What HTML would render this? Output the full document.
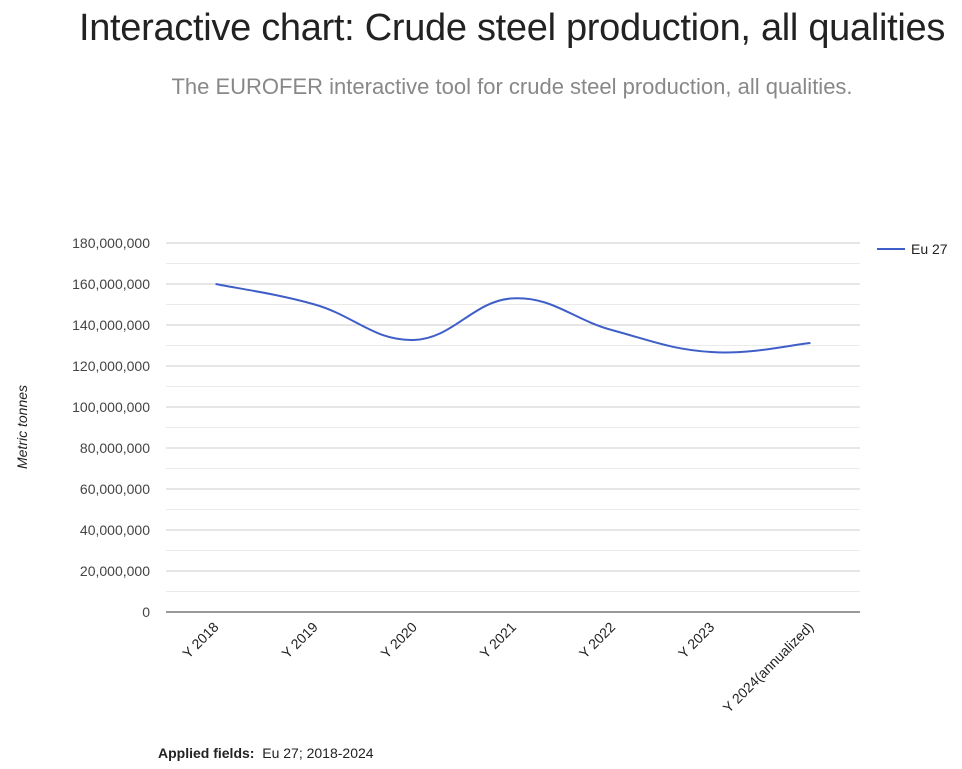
<!DOCTYPE html>
<html><head><meta charset="utf-8"><style>
body{margin:0;width:962px;height:769px;background:#fff;overflow:hidden;font-family:"Liberation Sans",sans-serif;}
#title{position:absolute;left:0;width:1024px;top:7px;text-align:center;font-size:38px;font-weight:300;color:#222;letter-spacing:-0.3px;}
#sub{position:absolute;left:0;width:1024px;top:74px;text-align:center;font-size:22px;color:#888;}
#foot{position:absolute;left:158px;top:745px;font-size:14px;color:#222;}
svg{position:absolute;left:0;top:0;}
</style></head><body>
<div id="title">Interactive chart: Crude steel production, all qualities</div>
<div id="sub">The EUROFER interactive tool for crude steel production, all qualities.</div>
<svg id="chart" width="962" height="769"></svg>
<div id="foot"><b>Applied fields:</b>&nbsp; Eu 27; 2018-2024</div>
<script>
const categories=["Y 2018","Y 2019","Y 2020","Y 2021","Y 2022","Y 2023","Y 2024(annualized)"];
const seriesEu27=[160000000,150000000,132700000,153000000,137500000,126800000,131200000];
const yTicks=[0,20000000,40000000,60000000,80000000,100000000,120000000,140000000,160000000,180000000];
const yTickLabels=["0","20,000,000","40,000,000","60,000,000","80,000,000","100,000,000","120,000,000","140,000,000","160,000,000","180,000,000"];
const NS="http://www.w3.org/2000/svg";
const svg=document.getElementById('chart');
const L=166,R=860,T=243,B=612,YMAX=180000000;
const y=v=>B-(v/YMAX)*(B-T);
const bw=(R-L)/categories.length;
const x=i=>L+bw*(i+0.5);
function mk(t,a,p){const e=document.createElementNS(NS,t);for(const k in a)e.setAttribute(k,a[k]);(p||svg).appendChild(e);return e;}
for(let i=0;i<yTicks.length-1;i++){
 const m=(yTicks[i]+yTicks[i+1])/2;
 const g=mk('line',{x1:L,x2:R,y1:y(m),y2:y(m),stroke:'#ebebeb','stroke-width':1});
 
 
}
yTicks.forEach((v,i)=>{
 const g=mk('line',{x1:L,x2:R,y1:y(v),y2:y(v),stroke:i==0?'#333':'#ccc','stroke-width':1});
 
 
 const t=mk('text',{x:150,y:y(v)+5,'text-anchor':'end','font-size':14,fill:'#444'});
 t.textContent=yTickLabels[i];
 
 
});
categories.forEach((c,i)=>{
 const t=mk('text',{x:x(i)+4,y:B+16,'text-anchor':'end','font-size':14,fill:'#222',transform:`rotate(-45 ${x(i)+4} ${B+16})`});
 t.textContent=c;
 
 
});
const yt=mk('text',{x:27,y:427,'text-anchor':'middle','font-size':14,'font-style':'italic',fill:'#222',transform:'rotate(-90 27 427)'});
yt.textContent='Metric tonnes';


const pts=seriesEu27.map((v,i)=>[x(i),y(v)]);
let d=`M${pts[0][0]},${pts[0][1]}`;
const k=0.2;
for(let i=0;i<pts.length-1;i++){
 const p0=pts[Math.max(0,i-1)],p1=pts[i],p2=pts[i+1],p3=pts[Math.min(pts.length-1,i+2)];
 const c1=[p1[0]+(p2[0]-p0[0])*k,p1[1]+(p2[1]-p0[1])*k];
 const c2=[p2[0]-(p3[0]-p1[0])*k,p2[1]-(p3[1]-p1[1])*k];
 d+=` C${c1[0]},${c1[1]} ${c2[0]},${c2[1]} ${p2[0]},${p2[1]}`;
}
const line=mk('path',{d:d,fill:'none',stroke:'#3f5fc8','stroke-width':2});


const lg=mk('line',{x1:877,x2:905,y1:249,y2:249,stroke:'#3f5fc8','stroke-width':2});


const lt=mk('text',{x:911,y:254,'font-size':14,fill:'#222'});
lt.textContent='Eu 27';


</script>
</body></html>
